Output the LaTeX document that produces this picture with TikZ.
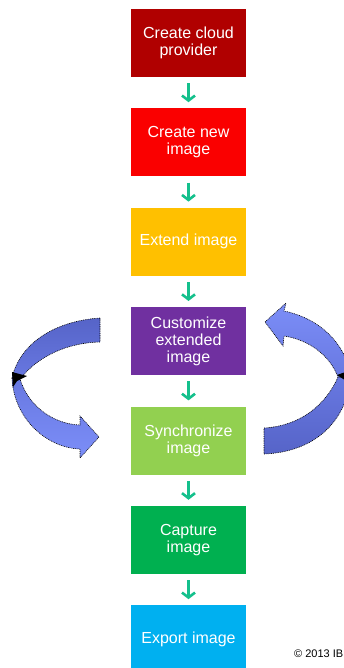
\documentclass[tikz,border=0pt]{standalone}
\usepackage{fontspec}
\setmainfont{Liberation Sans}
\usetikzlibrary{positioning,arrows.meta}

\definecolor{provred}{RGB}{176,0,0}
\definecolor{imgred}{RGB}{250,0,0}
\definecolor{extamber}{RGB}{255,192,0}
\definecolor{custpurple}{RGB}{112,48,160}
\definecolor{synclime}{RGB}{146,208,80}
\definecolor{capgreen}{RGB}{0,176,80}
\definecolor{expblue}{RGB}{0,176,240}
\definecolor{flowteal}{RGB}{20,192,140}
\definecolor{banddark}{RGB}{86,100,200}
\definecolor{bandmid}{RGB}{104,120,225}
\definecolor{bandlight}{RGB}{124,142,248}

\tikzset{
  node distance=31pt,
  stepbox/.style = {fill=#1, minimum width=115pt, minimum height=68pt, inner sep=0pt,
                    align=center, text=white, font=\fontsize{16}{17}\selectfont},
  flowarrow/.style = {draw=flowteal, line width=2.6pt,
                      -{Straight Barb[length=5pt,width=13pt]},
                      shorten <=6pt, shorten >=6pt},
  band/.style = {draw=black, line width=0.6pt, dash pattern=on 0.9pt off 0.9pt}
}

\begin{document}
\begin{tikzpicture}[x=1pt,y=-1pt]
  \useasboundingbox (0,0) rectangle (343,668);

  % the steps, top to bottom
  \node [stepbox=provred] (prov) at (188.5,43) {Create cloud\\provider};
  \node [stepbox=imgred, below=of prov] (newimg) {Create new\\image};
  \node [stepbox=extamber, below=of newimg] (extimg) {Extend image};
  \node [stepbox=custpurple, below=of extimg] (custimg) {Customize\\extended\\image};
  \node [stepbox=synclime, below=of custimg] (syncimg) {Synchronize\\image};
  \node [stepbox=capgreen, below=of syncimg] (capimg) {Capture\\image};
  \node [stepbox=expblue, below=of capimg] (expimg) {Export image};

  \draw [flowarrow] (prov) -- (newimg);
  \draw [flowarrow] (newimg) -- (extimg);
  \draw [flowarrow] (extimg) -- (custimg);
  \draw [flowarrow] (custimg) -- (syncimg);
  \draw [flowarrow] (syncimg) -- (capimg);
  \draw [flowarrow] (capimg) -- (expimg);

  % left loop arrow: dark upper band, light lower band with head
  \path [band, top color=banddark, bottom color=bandmid]
    (100,318) .. controls (55,321) and (20,343) .. (12,378) -- (20,379)
    .. controls (35,360) and (62,343) .. (100,342) -- cycle;
  \path [band, top color=bandmid, bottom color=bandlight]
    (12,378) .. controls (14,420) and (48,448) .. (80,449)
    -- (80,458) -- (99,437) -- (80,416) -- (80,425)
    .. controls (52,424) and (28,405) .. (20,379) -- cycle;
  \fill (12,372) -- (27,376) -- (17,381) -- (13,387) -- cycle;

  % right loop arrow: dark lower band, light upper band with head
  \path [band, top color=bandmid, bottom color=banddark]
    (264,454) .. controls (312,452) and (345,425) .. (351,378) -- (338,377)
    .. controls (326,405) and (300,426) .. (264,428) -- cycle;
  \path [band, top color=bandlight, bottom color=bandmid]
    (351,378) .. controls (346,342) and (318,318) .. (284,311)
    -- (286,303) -- (265,322) -- (283,346) -- (284,336)
    .. controls (310,340) and (330,356) .. (338,377) -- cycle;
  \fill (351,370) -- (337,375) -- (351,384) -- cycle;

  \node [anchor=west, font=\fontsize{11}{13}\selectfont, inner sep=0pt] (copy) at (294,654) {© 2013 IBM};
\end{tikzpicture}
\end{document}
